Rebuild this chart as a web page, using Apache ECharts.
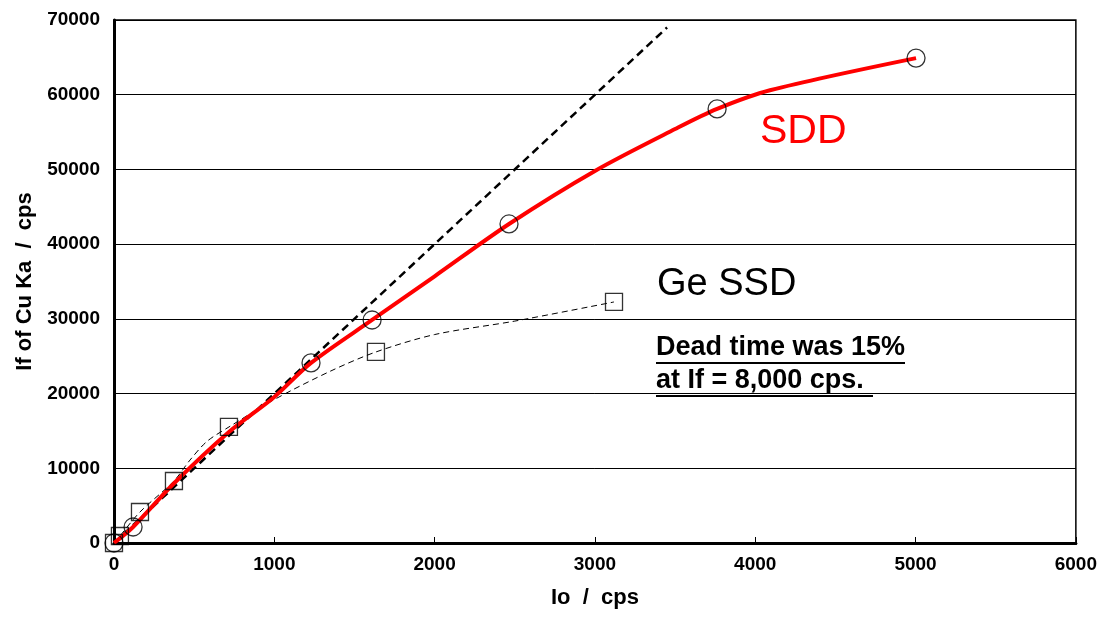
<!DOCTYPE html>
<html><head><meta charset="utf-8">
<script src="https://cdn.jsdelivr.net/npm/echarts@6/dist/echarts.min.js"></script>
<style>html,body{margin:0;padding:0;background:#fff}#c{width:1100px;height:617px}</style>
</head><body><div id="c"></div>
<script>
// SDD measured points (circles)
const sddPoints = [[0,0],[119,2140],[1229,24100],[1610,29850],[2464,42700],[3762,58100],[5003,64900]];
// SDD fitted curve (red)
const sddCurve = [[0,0],[119,2140],[370,7900],[717,14860],[1000,19550],[1229,24100],[1610,29850],[2000,35700],[2464,42700],[3000,49800],[3500,55400],[3762,58100],[4092,60600],[5003,64900]];
// Ge SSD measured points (squares)
const gePoints = [[0,0],[37,940],[162,4150],[374,8300],[717,15530],[1634,25570],[3119,32260]];
// Ge SSD thin dashed curve
const geCurve = [[0,0],[37,940],[162,4150],[374,8300],[474,11100],[580,13600],[717,15530],[1000,19200],[1350,23000],[1634,25570],[2000,27900],[2500,29700],[3119,32260]];
// Ideal linear response (thick dashed)
const ideal = [[0,0],[3450,69000]];
const xTicks = {min:0,max:6000,interval:1000};
const yTicks = {min:0,max:70000,interval:10000};

const chart = echarts.init(document.getElementById('c'));
const F = '"Liberation Sans", Arial, sans-serif';
const plain = v => String(v);
chart.setOption({
  animation:false,
  grid:{left:114,right:23,top:20,bottom:74,show:true,borderColor:'#000',borderWidth:1.5,backgroundColor:'#fff'},
  xAxis:[{
    type:'value',min:xTicks.min,max:xTicks.max,interval:xTicks.interval,
    name:'Io  /  cps',nameLocation:'middle',nameGap:44,
    nameTextStyle:{fontFamily:F,fontSize:22,fontWeight:'bold',color:'#000'},
    axisLine:{show:true,onZero:false,lineStyle:{color:'#000',width:3}},
    axisTick:{show:true,inside:true,length:6,lineStyle:{color:'#000',width:1}},
    axisLabel:{fontFamily:F,fontSize:19,fontWeight:'bold',color:'#000',margin:12,formatter:plain},
    splitLine:{show:false}
  },{
    type:'value',position:'top',min:xTicks.min,max:xTicks.max,
    axisLine:{show:true,lineStyle:{color:'#000',width:2.5}},
    axisTick:{show:false},axisLabel:{show:false},splitLine:{show:false}
  }],
  yAxis:{
    type:'value',min:yTicks.min,max:yTicks.max,interval:yTicks.interval,
    name:'If of Cu Ka  /  cps',nameLocation:'middle',nameGap:76,
    nameTextStyle:{fontFamily:F,fontSize:22,fontWeight:'bold',color:'#000'},
    axisLine:{show:true,onZero:false,lineStyle:{color:'#000',width:3}},
    axisTick:{show:false},
    axisLabel:{fontFamily:F,fontSize:19,fontWeight:'bold',color:'#000',margin:14,formatter:plain},
    splitLine:{show:true,lineStyle:{color:'#000',width:1}}
  },
  series:[
    {type:'line',data:ideal,showSymbol:false,symbol:'none',z:2,
     lineStyle:{color:'#000',width:2.5,type:[8,5]}},
    {type:'line',data:geCurve,smooth:0.3,showSymbol:false,symbol:'none',z:3,
     lineStyle:{color:'#000',width:1,type:[6,4]}},
    {type:'line',data:sddCurve,smooth:0.3,showSymbol:false,symbol:'none',z:4,
     lineStyle:{color:'#ff0000',width:4}},
    {type:'scatter',data:gePoints,symbol:'rect',symbolSize:17,z:5,
     itemStyle:{color:'rgba(255,255,255,0)',borderColor:'#000',borderWidth:1.3}},
    {type:'scatter',data:sddPoints,symbol:'circle',symbolSize:18,z:5,
     itemStyle:{color:'rgba(255,255,255,0)',borderColor:'#000',borderWidth:1.3}}
  ],
  graphic:[
    {type:'text',left:760,top:111,style:{text:'SDD',fontFamily:F,fontSize:41,fill:'#ff0000'}},
    {type:'text',left:657,top:266,style:{text:'Ge SSD',fontFamily:F,fontSize:38,fill:'#000'}},
    {type:'text',left:656,top:334,style:{text:'Dead time was 15%',fontFamily:F,fontSize:27,fontWeight:'bold',fill:'#000'}},
    {type:'text',left:656,top:367,style:{text:'at If = 8,000 cps.',fontFamily:F,fontSize:27,fontWeight:'bold',fill:'#000'}},
    {type:'line',shape:{x1:656,y1:363,x2:905,y2:363},style:{stroke:'#000',lineWidth:2}},
    {type:'line',shape:{x1:656,y1:396,x2:873,y2:396},style:{stroke:'#000',lineWidth:2}}
  ]
});
</script></body></html>
